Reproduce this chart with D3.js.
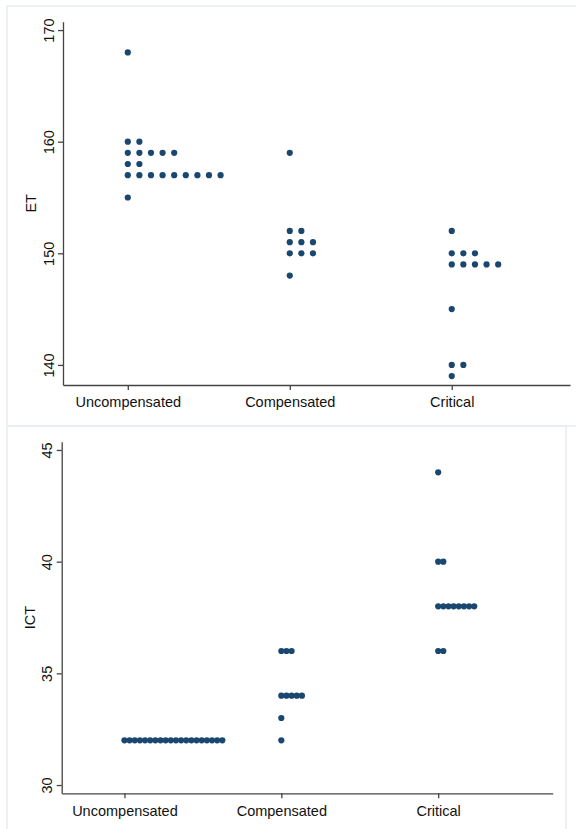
<!DOCTYPE html>
<html>
<head>
<meta charset="utf-8">
<script src="https://cdn.jsdelivr.net/npm/d3@7"></script>
<style>
  body { margin: 0; background: #fff; }
  svg { display: block; font-family: "Liberation Sans", Arial, sans-serif; }
</style>
</head>
<body>
<div id="chart"></div>
<script>
// categories on the x axis
var categories = ["Uncompensated", "Compensated", "Critical"];

// ET observations per group
var etUncompensated = [168, 160, 160, 159, 159, 159, 159, 159, 158, 158,
                       157, 157, 157, 157, 157, 157, 157, 157, 157, 155];
var etCompensated = [159, 152, 152, 151, 151, 151, 150, 150, 150, 148];
var etCritical = [152, 150, 150, 150, 149, 149, 149, 149, 149, 145, 140, 140, 139];

// ICT observations per group
var ictUncompensated = [32, 32, 32, 32, 32, 32, 32, 32, 32, 32,
                        32, 32, 32, 32, 32, 32, 32, 32, 32, 32];
var ictCompensated = [36, 36, 36, 34, 34, 34, 34, 34, 33, 32];
var ictCritical = [44, 40, 40, 38, 38, 38, 38, 38, 38, 38, 38, 36, 36];

var etTicks = [140, 150, 160, 170];
var ictTicks = [30, 35, 40, 45];

var W = 576, H = 829;
var dotColor = "#1a476f";
var axisColor = "#444";
var fontSize = "14.5px";

var svg = d3.select("#chart")
  .append("svg")
    .attr("width", W)
    .attr("height", H);

// panel frames (light outer region borders)
svg.append("rect")
  .attr("x", 7).attr("y", 6)
  .attr("width", W + 10).attr("height", 420)
  .attr("fill", "none")
  .attr("stroke", "#e6edf1")
  .attr("stroke-width", 1.5);
svg.append("rect")
  .attr("x", 7).attr("y", 426)
  .attr("width", 559).attr("height", 420)
  .attr("fill", "none")
  .attr("stroke", "#e6edf1")
  .attr("stroke-width", 1.5);

function drawPanel(opts) {
  var g = svg.append("g");

  var x = d3.scaleLinear()
    .domain([0.6, 3.73])
    .range([opts.left, opts.right]);

  var y = d3.scaleLinear()
    .domain(opts.yDomain)
    .range([opts.bottom, opts.top]);

  // x axis
  var xAxis = g.append("g")
    .attr("transform", "translate(0," + opts.bottom + ")")
    .call(d3.axisBottom(x)
      .tickValues([1, 2, 3])
      .tickFormat(function(d) { return categories[d - 1]; })
      .tickSize(5)
      .tickSizeOuter(0));
  xAxis.selectAll("text")
    .attr("y", 12)
    .attr("dy", "0.71em")
    .style("font-size", fontSize)
    .style("font-family", "'Liberation Sans', Arial, sans-serif")
    .attr("fill", "#111");

  // y axis
  var yAxis = g.append("g")
    .attr("transform", "translate(" + opts.left + ",0)")
    .call(d3.axisLeft(y)
      .tickValues(opts.ticks)
      .tickSize(5)
      .tickSizeOuter(0));
  yAxis.selectAll(".tick text")
    .attr("x", null)
    .attr("dy", null)
    .attr("text-anchor", "middle")
    .attr("transform", "translate(-9.5,0) rotate(-90)")
    .style("font-size", fontSize)
    .style("font-family", "'Liberation Sans', Arial, sans-serif")
    .attr("fill", "#111");

  g.selectAll(".domain, .tick line")
    .attr("stroke", axisColor)
    .attr("stroke-width", 1.3);

  // y axis title
  g.append("text")
    .text(opts.title)
    .attr("text-anchor", "middle")
    .attr("transform", "translate(" + (opts.left - 27) + "," + ((opts.top + opts.bottom) / 2) + ") rotate(-90)")
    .style("font-size", fontSize)
    .attr("fill", "#111");

  // dots: stack repeated values side by side, to the right of the category
  opts.groups.forEach(function(values, i) {
    var seen = {};
    var pts = values.map(function(v) {
      var k = seen[v] || 0;
      seen[v] = k + 1;
      return {value: v, k: k};
    });
    g.append("g")
      .selectAll("circle")
      .data(pts)
      .enter()
      .append("circle")
        .attr("cx", function(d) { return x(i + 1) + d.k * opts.step; })
        .attr("cy", function(d) { return y(d.value); })
        .attr("r", 3.1)
        .attr("fill", dotColor);
  });
}

drawPanel({
  left: 63, right: 570, top: 21.7, bottom: 385,
  yDomain: [138.2, 170.75],
  ticks: etTicks,
  title: "ET",
  step: 11.6,
  groups: [etUncompensated, etCompensated, etCritical]
});

drawPanel({
  left: 61.7, right: 552.7, top: 441.7, bottom: 793.3,
  yDomain: [29.63, 45.37],
  ticks: ictTicks,
  title: "ICT",
  step: 5.15,
  groups: [ictUncompensated, ictCompensated, ictCritical]
});
</script>
</body>
</html>
